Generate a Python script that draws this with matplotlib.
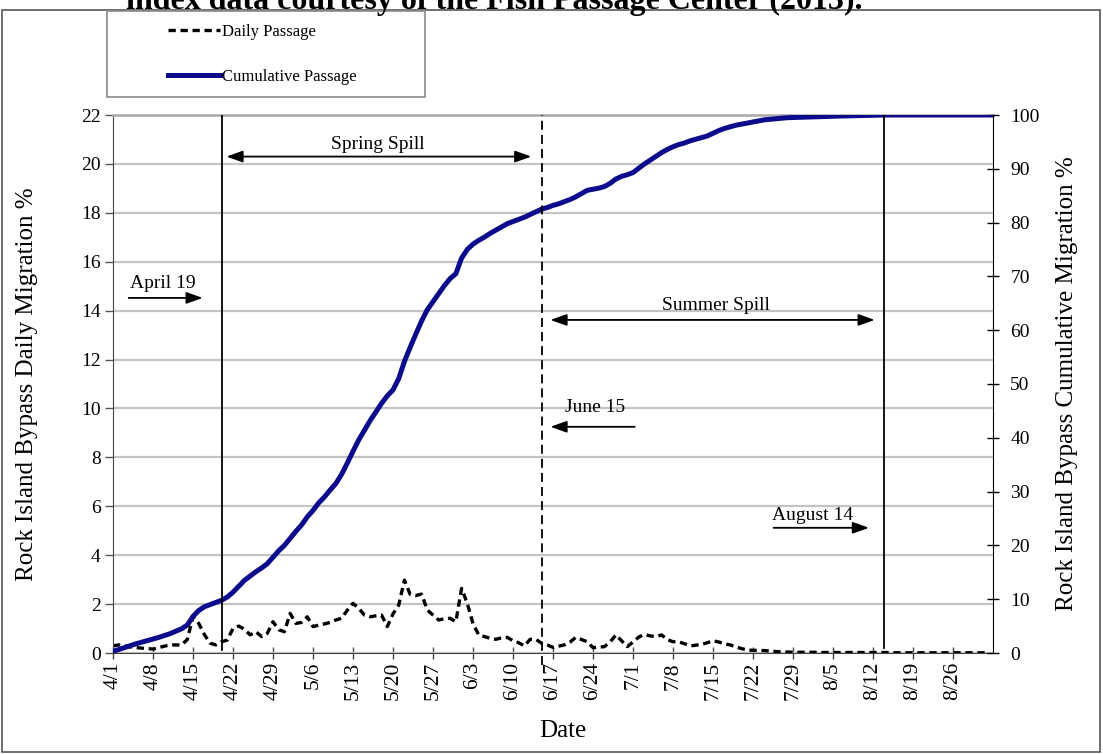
import matplotlib
matplotlib.use("Agg")
import matplotlib.pyplot as plt
from matplotlib.patches import Rectangle

plt.rcParams['font.family'] = ['Liberation Serif', 'DejaVu Serif']

# days counted from 4/1 (day 0)
tick_days = [0, 7, 14, 21, 28, 35, 42, 49, 56, 63, 70, 77, 84, 91, 98, 105,
             112, 119, 126, 133, 140, 147]
tick_labels = ["4/1", "4/8", "4/15", "4/22", "4/29", "5/6", "5/13", "5/20",
               "5/27", "6/3", "6/10", "6/17", "6/24", "7/1", "7/8", "7/15",
               "7/22", "7/29", "8/5", "8/12", "8/19", "8/26"]

# daily passage (%), one value per day from 4/1
daily = [0.29, 0.33, 0.30, 0.25, 0.22, 0.20, 0.18, 0.16, 0.22, 0.28,
         0.33, 0.33, 0.33, 0.55, 1.48, 1.21, 0.75, 0.40, 0.33, 0.46,
         0.53, 1.00, 1.10, 0.97, 0.74, 0.87, 0.67, 0.80, 1.28, 0.95,
         0.87, 1.62, 1.21, 1.25, 1.48, 1.08, 1.14, 1.19, 1.25, 1.35,
         1.42, 1.75, 2.03, 1.83, 1.55, 1.48, 1.52, 1.55, 1.08, 1.60,
         1.96, 2.98, 2.40, 2.35, 2.41, 1.76, 1.55, 1.35, 1.40, 1.42,
         1.28, 2.64, 2.03, 1.20, 0.74, 0.67, 0.60, 0.56, 0.62, 0.64,
         0.50, 0.42, 0.29, 0.56, 0.56, 0.40, 0.33, 0.23, 0.28, 0.33,
         0.45, 0.64, 0.55, 0.46, 0.22, 0.24, 0.26, 0.45, 0.74, 0.50,
         0.26, 0.45, 0.65, 0.76, 0.70, 0.67, 0.74, 0.55, 0.46, 0.46,
         0.38, 0.29, 0.32, 0.35, 0.42, 0.50, 0.45, 0.38, 0.33, 0.25,
         0.18, 0.12, 0.11, 0.10, 0.10, 0.08, 0.06, 0.04, 0.04, 0.03,
         0.03, 0.03, 0.03, 0.03, 0.02, 0.02, 0.02, 0.02, 0.02, 0.02,
         0.02, 0.02, 0.02, 0.02, 0.02, 0.02, 0.02, 0.01, 0.01, 0.01,
         0.01, 0.01, 0.01, 0.01, 0.01, 0.01, 0.01, 0.01, 0.01, 0.01,
         0.01, 0.01, 0.01, 0.01]
daily_days = list(range(len(daily)))

# cumulative passage (%)
cum_days = [0, 2, 4, 6, 8, 10, 12, 13, 14, 15, 16, 17, 18, 19, 20, 21, 22, 23,
            24, 25, 26, 27, 28, 29, 30, 31, 32, 33, 34, 35, 36, 37, 38, 39, 40,
            41, 42, 43, 44, 45, 46, 47, 48, 49, 50, 51, 52, 53, 54, 55, 56, 57,
            58, 59, 60, 61, 62, 63, 64, 65, 66, 67, 68, 69, 70, 71, 72, 73, 74,
            75, 76, 77, 78, 79, 80, 81, 82, 83, 84, 85, 86, 87, 88, 89, 90, 91,
            92, 93, 94, 95, 96, 97, 98, 99, 100, 101, 102, 103, 104, 105, 106,
            107, 108, 109, 110, 112, 114, 116, 118, 121, 124, 127, 131, 135, 154]
cumulative = [0.3, 1.0, 1.7, 2.3, 2.9, 3.6, 4.5, 5.2, 6.8, 7.9, 8.6, 9.0, 9.4,
              9.8, 10.4, 11.3, 12.4, 13.5, 14.3, 15.1, 15.8, 16.6, 17.8, 19.0,
              20.0, 21.3, 22.6, 23.8, 25.3, 26.5, 27.9, 29.0, 30.3, 31.5, 33.2,
              35.3, 37.5, 39.6, 41.4, 43.2, 44.8, 46.4, 47.8, 48.9, 51.0, 54.2,
              56.8, 59.3, 61.7, 63.8, 65.3, 66.8, 68.3, 69.6, 70.5, 73.4, 75.0,
              76.0, 76.7, 77.3, 78.0, 78.6, 79.2, 79.8, 80.2, 80.6, 81.0, 81.5,
              82.0, 82.5, 82.8, 83.2, 83.5, 83.9, 84.3, 84.8, 85.4, 86.0, 86.2,
              86.4, 86.7, 87.3, 88.1, 88.6, 88.9, 89.3, 90.1, 90.9, 91.6, 92.3,
              93.0, 93.6, 94.1, 94.5, 94.8, 95.2, 95.5, 95.8, 96.1, 96.6, 97.1,
              97.5, 97.8, 98.1, 98.3, 98.7, 99.1, 99.3, 99.5, 99.6, 99.7, 99.8,
              99.9, 100.0, 100.0]

# April 19, June 15, August 14
event_days = [19, 75, 135]

fig = plt.figure(figsize=(11.03, 7.54), dpi=100)
ax = fig.add_axes([113 / 1103, 101 / 754, 880 / 1103, 538 / 754])

# outer frame and cut-off caption (the source image is cropped through it)
fig.add_artist(Rectangle((2 / 1103, 2 / 754), 1098 / 1103, 742 / 754,
                         transform=fig.transFigure, fill=False,
                         ec='#555555', lw=1.2))
fig.text(0.448, 1 - 9 / 754,
         "index data courtesy of the Fish Passage Center (2013).",
         ha='center', va='baseline', fontsize=23, fontweight='bold')

ln1, = ax.plot(daily_days, daily, color='black', lw=2.4,
               linestyle=(0, (2.2, 1.4)), label='Daily Passage')
ax.set_xlim(0, 154)
ax.set_ylim(0, 22)
ax.set_yticks(range(0, 23, 2))
ax.set_xticks(tick_days)
ax.set_xticklabels(tick_labels, rotation=90)
ax.grid(axis='y', color='#c4c4c4', lw=1.6)
ax.set_axisbelow(True)
ax.tick_params(axis='y', direction='out', length=6, width=1, color='#555555',
               labelsize=14, pad=3)
ax.tick_params(axis='x', direction='inout', length=9, width=1,
               color='#444444', labelsize=15.5, pad=2)
ax.spines['top'].set_color('#a8a8a8')
ax.spines['top'].set_linewidth(1.8)
ax.spines['left'].set_color('#444444')
ax.spines['bottom'].set_color('#444444')
ax.spines['right'].set_visible(False)

ax.set_ylabel('Rock Island Bypass Daily Migration %', fontsize=18)
ax.yaxis.set_label_coords(-0.085, 0.5)
ax.set_xlabel('Date', fontsize=18)
ax.xaxis.set_label_coords(0.511, -0.124)

ax2 = ax.twinx()
ln2, = ax2.plot(cum_days, cumulative, color='#0b0b8c', lw=3.6,
                label='Cumulative Passage')
ax2.set_ylim(0, 100)
ax2.set_yticks(range(0, 101, 10))
ax2.tick_params(axis='y', direction='inout', length=9, width=1,
                labelsize=14, pad=8)
ax2.spines['right'].set_color('black')
ax2.spines['top'].set_visible(False)
ax2.spines['left'].set_visible(False)
ax2.spines['bottom'].set_visible(False)
ax2.set_ylabel('Rock Island Bypass Cumulative Migration %', fontsize=18)
ax2.yaxis.set_label_coords(1.072, 0.5)

# spill boundaries
ax2.axvline(event_days[0], ymin=0.006, ymax=1, color='black', lw=1.3)
ax2.axvline(event_days[1], ymin=-0.022, ymax=1, color='black', lw=1.3,
            linestyle=(0, (5, 2.8)), clip_on=False)
ax2.axvline(event_days[2], ymin=0.01, ymax=1, color='black', lw=1.3)

head = '-|>,head_length=0.7,head_width=0.25'
both = '<|-|>,head_length=0.7,head_width=0.25'
arr = dict(color='black', lw=1.3, shrinkA=0, shrinkB=0, mutation_scale=14)

ax.annotate('', xy=(73.2, 20.3), xytext=(19.85, 20.3),
            arrowprops=dict(arrowstyle=both, **arr))
ax.text(46.3, 20.78, 'Spring Spill', ha='center', va='center', fontsize=14)

ax.annotate('', xy=(15.7, 14.52), xytext=(2.75, 14.52),
            arrowprops=dict(arrowstyle=head, **arr))
ax.text(8.7, 15.13, 'April 19', ha='center', va='center', fontsize=14)

ax.annotate('', xy=(133.3, 13.62), xytext=(76.55, 13.62),
            arrowprops=dict(arrowstyle=both, **arr))
ax.text(105.5, 14.23, 'Summer Spill', ha='center', va='center', fontsize=14)

ax.annotate('', xy=(76.55, 9.25), xytext=(91.3, 9.25),
            arrowprops=dict(arrowstyle=head, **arr))
ax.text(84.4, 10.02, 'June 15', ha='center', va='center', fontsize=14)

ax.annotate('', xy=(132.3, 5.12), xytext=(115.6, 5.12),
            arrowprops=dict(arrowstyle=head, **arr))
ax.text(122.5, 5.64, 'August 14', ha='center', va='center', fontsize=14)

# legend box
fig.add_artist(Rectangle((107 / 1103, 1 - 97 / 754), 318 / 1103, 86 / 754,
                         transform=fig.transFigure, fill=False,
                         ec='#8a8a8a', lw=1.2))
fig.legend([ln1, ln2], ['Daily Passage', 'Cumulative Passage'],
           loc='upper left', bbox_to_anchor=(168 / 1103, 1 - 24 / 754),
           frameon=False, fontsize=12, handlelength=3.1, handletextpad=0.15,
           labelspacing=1.75, borderpad=0, borderaxespad=0)

fig.savefig('out.png', dpi=100)
